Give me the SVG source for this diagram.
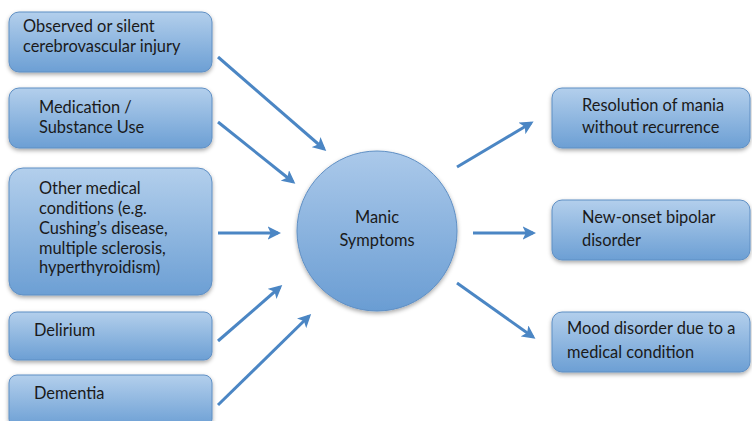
<svg xmlns="http://www.w3.org/2000/svg" width="752" height="421" viewBox="0 0 752 421">
<defs>
<linearGradient id="g" x1="0" y1="0" x2="0" y2="1">
<stop offset="0" stop-color="#b3cfec"/>
<stop offset="1" stop-color="#6c9fd4"/>
</linearGradient>
<linearGradient id="gc" x1="0" y1="0" x2="0" y2="1">
<stop offset="0" stop-color="#abc9ea"/>
<stop offset="1" stop-color="#6a9dd3"/>
</linearGradient>
<filter id="sh" x="-10%" y="-10%" width="120%" height="130%">
<feDropShadow dx="0" dy="2" stdDeviation="2" flood-color="#000" flood-opacity="0.35"/>
</filter>
<marker id="ah" markerWidth="4.5" markerHeight="4.5" refX="3.5" refY="2.25" orient="auto" markerUnits="strokeWidth">
<path d="M0,0 L4.5,2.25 L0,4.5 L1.1,2.25 Z" fill="#4b86c4"/>
</marker>
</defs>
<style>
.box{fill:url(#g);stroke:#5f8fc4;stroke-width:1;filter:url(#sh)}
.circ{fill:url(#gc);stroke:#5f8fc4;stroke-width:1;filter:url(#sh)}
text{font-family:Lato,"Liberation Sans",sans-serif;font-size:16.4px;fill:#1a1a1a}
.c{stroke:#4b86c4;stroke-width:3;fill:none;marker-end:url(#ah)}
</style>
<rect width="752" height="421" fill="#fff"/>
<g id="n1"><rect class="box" x="9" y="12" width="203" height="60" rx="10"/>
<text x="23" y="32">Observed or silent</text><text x="23" y="52">cerebrovascular injury</text></g>
<g id="n2"><rect class="box" x="9" y="88" width="203" height="60" rx="10"/>
<text x="39" y="113">Medication /</text><text x="39" y="133">Substance Use</text></g>
<g id="n3"><rect class="box" x="9" y="168" width="203" height="127" rx="14"/>
<text x="39" y="194">Other medical</text><text x="39" y="214">conditions (e.g.</text><text x="39" y="234">Cushing’s disease,</text><text x="39" y="254">multiple sclerosis,</text><text x="39" y="273">hyperthyroidism)</text></g>
<g id="n4"><rect class="box" x="9" y="312" width="203" height="48" rx="8"/>
<text x="34" y="336">Delirium</text></g>
<g id="n5"><rect class="box" x="9" y="375" width="203" height="52" rx="8"/>
<text x="34" y="399">Dementia</text></g>
<g id="n6"><circle class="circ" cx="377" cy="231" r="80"/>
<text x="377" y="223" text-anchor="middle">Manic</text><text x="377" y="246" text-anchor="middle">Symptoms</text></g>
<g id="n7"><rect class="box" x="552" y="88" width="198" height="60" rx="10"/>
<text x="582" y="111">Resolution of mania</text><text x="582" y="133">without recurrence</text></g>
<g id="n8"><rect class="box" x="552" y="200" width="198" height="60" rx="10"/>
<text x="582" y="223">New-onset bipolar</text><text x="582" y="246">disorder</text></g>
<g id="n9"><rect class="box" x="552" y="312" width="198" height="60" rx="10"/>
<text x="567" y="334">Mood disorder due to a</text><text x="567" y="358">medical condition</text></g>
<g id="connectors">
<line class="c" x1="218" y1="57" x2="324" y2="149"/>
<line class="c" x1="218" y1="122" x2="293" y2="182"/>
<line class="c" x1="218" y1="233" x2="278" y2="233"/>
<line class="c" x1="218" y1="341" x2="280" y2="287"/>
<line class="c" x1="218" y1="405" x2="309" y2="316"/>
<line class="c" x1="457" y1="167" x2="531" y2="123"/>
<line class="c" x1="473" y1="233" x2="533" y2="233"/>
<line class="c" x1="457" y1="283" x2="533" y2="337"/>
</g>
</svg>
